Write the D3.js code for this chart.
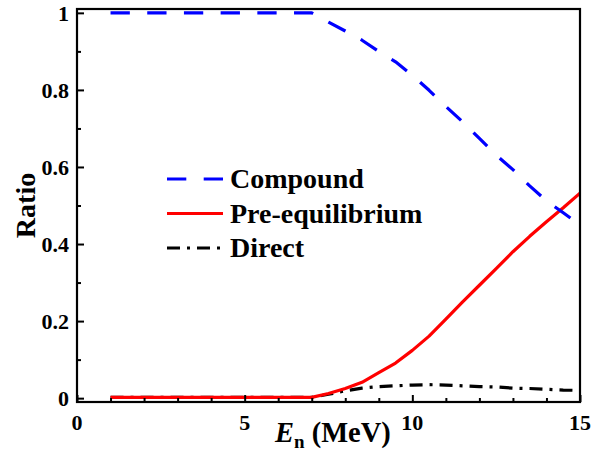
<!DOCTYPE html>
<html>
<head>
<meta charset="utf-8">
<script src="https://cdn.jsdelivr.net/npm/d3@7"></script>
<style>
  html, body { margin: 0; padding: 0; background: #fff; }
  svg { display: block; }
</style>
</head>
<body>
<svg id="chart" width="615" height="452"></svg>
<script>
// ---- data ----
const energies   = [1, 2, 3, 4, 5, 6, 7, 7.5, 8, 8.5, 9, 9.5, 10, 10.5, 11, 11.5, 12, 12.5, 13, 13.5, 14, 14.5, 15];
const compound   = [1, 1, 1, 1, 1, 1, 1, 0.976, 0.953, 0.929, 0.900, 0.873, 0.838, 0.799, 0.757, 0.717, 0.674, 0.631, 0.593, 0.551, 0.512, 0.481, 0.450];
const preEquil   = [0.002, 0.002, 0.002, 0.002, 0.002, 0.002, 0.002, 0.012, 0.025, 0.041, 0.066, 0.091, 0.124, 0.161, 0.205, 0.250, 0.293, 0.336, 0.380, 0.420, 0.458, 0.494, 0.532];
const direct     = [0.002, 0.002, 0.002, 0.002, 0.002, 0.002, 0.002, 0.010, 0.019, 0.026, 0.030, 0.032, 0.034, 0.035, 0.034, 0.032, 0.030, 0.029, 0.026, 0.025, 0.023, 0.021, 0.020];
const seriesNames = ["Compound", "Pre-equilibrium", "Direct"];
const xTickLabels = ["0", "5", "10", "15"];
const yTickLabels = ["0", "0.2", "0.4", "0.6", "0.8", "1"];

// ---- layout ----
const FONT = "Liberation Serif";
const svg = d3.select("#chart");
const L = 77, R = 580, T = 9, B = 402;
const x = d3.scaleLinear().domain([0, 15]).range([L, R]);
const y = d3.scaleLinear().domain([-0.01, 1.01]).range([B, T]);

const series = [
  { name: seriesNames[2], values: direct,   color: "#000000", dash: "13,7,3,7" },
  { name: seriesNames[1], values: preEquil, color: "#ff0000", dash: null },
  { name: seriesNames[0], values: compound, color: "#0000ff", dash: "19.3,17.4" }
];

const line = d3.line().x((d, i) => x(energies[i])).y(d => y(d));

svg.append("defs").append("clipPath").attr("id", "clip")
  .append("rect").attr("x", L).attr("y", T).attr("width", R - L).attr("height", B - T);

const plot = svg.append("g").attr("clip-path", "url(#clip)");
series.forEach(s => {
  plot.append("path")
    .datum(s.values)
    .attr("d", line)
    .attr("fill", "none")
    .attr("stroke", s.color)
    .attr("stroke-width", 3.2)
    .attr("stroke-dasharray", s.dash)
    .attr("stroke-linejoin", "round");
});

// ---- axes (ticks inward) ----
const xMajor = xTickLabels.map(Number);
const xMinor = d3.range(0, 16, 1).filter(v => !xMajor.includes(v));
const yMajor = yTickLabels.map(Number);
const yMinor = [0.1, 0.3, 0.5, 0.7, 0.9];

const xAxisMajor = d3.axisBottom(x).tickValues(xMajor).tickSize(-7).tickFormat("");
const xAxisMinor = d3.axisBottom(x).tickValues(xMinor).tickSize(-4).tickFormat("");
const yAxisMajor = d3.axisLeft(y).tickValues(yMajor).tickSize(-7).tickFormat("");
const yAxisMinor = d3.axisLeft(y).tickValues(yMinor).tickSize(-4).tickFormat("");

[ [xAxisMajor, `translate(0,${B})`], [xAxisMinor, `translate(0,${B})`],
  [yAxisMajor, `translate(${L},0)`], [yAxisMinor, `translate(${L},0)`] ].forEach(([ax, tr]) => {
  const g = svg.append("g").attr("transform", tr).call(ax);
  g.select(".domain").remove();
  g.selectAll("line").attr("stroke", "#000").attr("stroke-width", 2);
});

// frame
svg.append("rect")
  .attr("x", L).attr("y", T).attr("width", R - L).attr("height", B - T)
  .attr("fill", "none").attr("stroke", "#000").attr("stroke-width", 2.2);

function styleText(sel, size) {
  return sel.attr("font-family", FONT).attr("font-weight", "bold")
    .attr("font-size", size).attr("fill", "#000");
}

// tick labels
styleText(svg.append("g").selectAll("text").data(xTickLabels).join("text")
  .attr("x", d => x(+d)).attr("y", 430)
  .attr("text-anchor", "middle")
  .text(d => d), 22);

styleText(svg.append("g").selectAll("text").data(yTickLabels).join("text")
  .attr("x", 69).attr("y", d => y(+d) + 8)
  .attr("text-anchor", "end")
  .text(d => d), 22);

// axis titles
const xt = styleText(svg.append("text").attr("x", 275).attr("y", 442), 28.5);
xt.append("tspan").attr("font-style", "italic").text("E");
xt.append("tspan").attr("font-size", 19).attr("dy", 6).text("n");
xt.append("tspan").attr("dy", -6).text(" (MeV)");

styleText(svg.append("text")
  .attr("transform", `translate(35,${(T + B) / 2}) rotate(-90)`)
  .attr("text-anchor", "middle")
  .text("Ratio"), 28);

// legend
const legendRows = [series[2], series[1], series[0]];
const lg = svg.append("g");
legendRows.forEach((s, i) => {
  const cy = 179 + i * 34.5;
  lg.append("line")
    .attr("x1", 167).attr("x2", 223).attr("y1", cy).attr("y2", cy)
    .attr("stroke", s.color).attr("stroke-width", 3.2)
    .attr("stroke-dasharray", s.dash);
  styleText(lg.append("text")
    .attr("x", 230).attr("y", cy + 9)
    .text(s.name), 28);
});
</script>
</body>
</html>
